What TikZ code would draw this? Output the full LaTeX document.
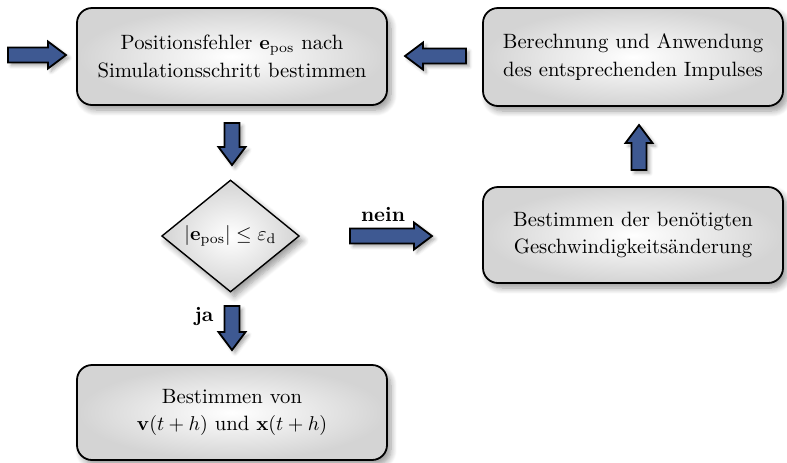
\documentclass[tikz,border=0pt]{standalone}
\usetikzlibrary{shapes.geometric,shadows.blur}
\definecolor{arrowblue}{RGB}{62,89,146}
\tikzset{
  procbox/.style={draw=black, line width=0.9pt, rounded corners=7.5pt,
    inner color=white, outer color=black!17,
    blur shadow={shadow xshift=2pt, shadow yshift=-2.5pt, shadow blur steps=8, shadow blur radius=3pt, shadow opacity=40},
    align=center, font=\fontsize{10.35}{13.6}\selectfont},
  decbox/.style={diamond, draw=black, line width=0.7pt, inner sep=0pt,
    inner color=white, outer color=black!17,
    blur shadow={shadow xshift=2pt, shadow yshift=-2.5pt, shadow blur steps=8, shadow blur radius=3pt, shadow opacity=40}},
  barrowstyle/.style={draw=black, line width=0.9pt, fill=arrowblue, line join=miter,
    blur shadow={shadow xshift=1.5pt, shadow yshift=-1.5pt, shadow blur steps=4, shadow opacity=35}},
  lbl/.style={font=\fontsize{10.35}{12}\selectfont\bfseries}
}
% tail x, tail y, unit x, unit y, length (pixel units)
\newcommand{\barrow}[5]{%
 \draw[barrowstyle]
 ({#1+7.5*(#4)},{#2-7.5*(#3)}) --
 ({#1+(#5-18)*(#3)+7.5*(#4)},{#2+(#5-18)*(#4)-7.5*(#3)}) --
 ({#1+(#5-18)*(#3)+13.5*(#4)},{#2+(#5-18)*(#4)-13.5*(#3)}) --
 ({#1+(#5)*(#3)},{#2+(#5)*(#4)}) --
 ({#1+(#5-18)*(#3)-13.5*(#4)},{#2+(#5-18)*(#4)+13.5*(#3)}) --
 ({#1+(#5-18)*(#3)-7.5*(#4)},{#2+(#5-18)*(#4)+7.5*(#3)}) --
 ({#1-7.5*(#4)},{#2+7.5*(#3)}) -- cycle;}
\begin{document}
\begin{tikzpicture}[x=0.5pt,y=-0.5pt]
\useasboundingbox (0,0) rectangle (787,462);
% boxes
\node[procbox, minimum width=155pt, minimum height=48.5pt] (pos) at (232,56.5)
  {Positionsfehler $\mathbf{e}_\mathrm{pos}$ nach\\Simulationsschritt bestimmen};
\node[procbox, minimum width=150pt, minimum height=49pt] (imp) at (633,57)
  {Berechnung und Anwendung\\des entsprechenden Impulses};
\node[procbox, minimum width=150pt, minimum height=48pt] (vel) at (633,235)
  {Bestimmen der ben\"otigten\\Geschwindigkeits\"anderung};
\node[procbox, minimum width=155pt, minimum height=47.5pt] (res) at (232,412.5)
  {Bestimmen von\\$\mathbf{v}(t+h)$ und $\mathbf{x}(t+h)$};
% decision
\node[decbox, minimum width=68.8pt, minimum height=56pt] (dec) at (230.5,236) {};
\node[font=\fontsize{10.35}{12}\selectfont] (dectext) at (dec.center) {$|\mathbf{e}_\mathrm{pos}|\le\varepsilon_\mathrm{d}$};
% arrows
\barrow{8}{55}{1}{0}{58}
\barrow{232}{123}{0}{1}{42}
\barrow{350}{236}{1}{0}{82}
\barrow{232}{306}{0}{1}{44}
\barrow{639}{170}{0}{-1}{45}
\barrow{466}{56}{-1}{0}{61}
% labels
\node[lbl] (nein) at (383,214) {nein};
\node[lbl] (ja) at (204,316) {ja};
\end{tikzpicture}
\end{document}
